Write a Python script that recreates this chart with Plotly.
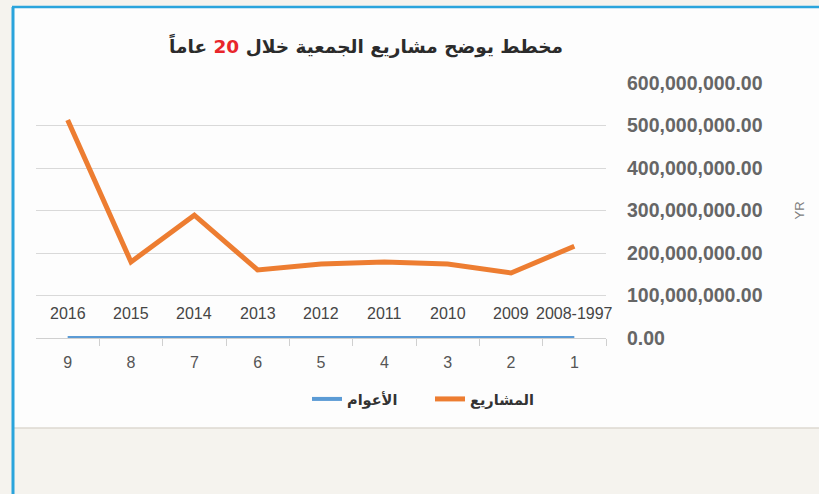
import plotly.graph_objects as go

# categories (right to left, Excel style reversed axis)
cats = ['1', '2', '3', '4', '5', '6', '7', '8', '9']
year_labels = ['2008-1997', '2009', '2010', '2011', '2012', '2013', '2014', '2015', '2016']
years_val = [2008, 2009, 2010, 2011, 2012, 2013, 2014, 2015, 2016]
projects = [216e6, 153e6, 174e6, 179e6, 174e6, 160e6, 289e6, 179e6, 513e6]
yticks = [0, 1e8, 2e8, 3e8, 4e8, 5e8, 6e8]

W, H = 819, 494
L, R, T, B = 36, 213, 83, 156
pw, ph = W - L - R, H - T - B

def px(x):
    return (x - L) / pw

def py(y):
    return (H - B - y) / ph

lab = 'Liberation Sans'
arab = 'DejaVu Sans'

fig = go.Figure()
fig.add_trace(go.Scatter(x=cats, y=years_val, name='الأعوام', mode='lines',
                         line=dict(color='#5b9bd5', width=4)))
fig.add_trace(go.Scatter(x=cats, y=projects, name='المشاريع', mode='lines',
                         line=dict(color='#ed7d31', width=5)))

# year labels sitting above the blue series (x given as category index)
for i, (lbl, v) in enumerate(zip(year_labels, years_val)):
    fig.add_annotation(x=i, y=v, text=lbl, showarrow=False, yshift=25,
                       font=dict(family=lab, size=16, color='#454545'))

shapes = [
    # page panel
    dict(type='rect', xref='paper', yref='paper', x0=px(13), x1=px(830), y0=py(428), y1=py(7),
         fillcolor='#fdfdfd', line=dict(width=0), layer='below'),
    dict(type='line', xref='paper', yref='paper', x0=px(13), x1=px(830), y0=py(428), y1=py(428),
         line=dict(color='#dcd8d0', width=1.5), layer='below'),
    dict(type='line', xref='paper', yref='paper', x0=px(13), x1=px(13), y0=py(500), y1=py(7),
         line=dict(color='#2aa4dc', width=3), layer='below'),
    dict(type='line', xref='paper', yref='paper', x0=px(12), x1=px(830), y0=py(7), y1=py(7),
         line=dict(color='#2aa4dc', width=2.5), layer='below'),
]

fig.update_layout(
    width=W, height=H,
    margin=dict(l=L, r=R, t=T, b=B),
    paper_bgcolor='#f5f3ee',
    plot_bgcolor='rgba(0,0,0,0)',
    shapes=shapes,
    title=dict(text="مخطط يوضح مشاريع الجمعية خلال <span style='color:#e8262b'>20</span> عاماً",
               x=366 / W, xanchor='center', y=1 - 47 / H, yanchor='middle',
               font=dict(family=arab, size=18.5, color='#2b2b2b', weight='bold')),
    showlegend=True,
    legend=dict(orientation='h', x=px(307), xanchor='left', y=py(399), yanchor='middle',
                font=dict(family=arab, size=14.5, color='#333333', weight='bold'),
                bgcolor='rgba(0,0,0,0)', traceorder='normal',
                entrywidth=78, entrywidthmode='pixels'),
    xaxis=dict(type='category', range=[len(cats) - 0.5, -0.5], showgrid=False,
               showline=True, linecolor='#d0d0d0', linewidth=1,
               ticks='outside', tickson='boundaries', ticklen=7, tickcolor='#d0d0d0',
               tickangle=0,
               tickfont=dict(family=lab, size=16, color='#555555'),
               ticklabelstandoff=10),
    yaxis=dict(side='right', range=[0, 6e8], tickvals=yticks, tickformat=',.2f',
               showgrid=True, gridcolor='#d9d9d9', gridwidth=1, zeroline=False,
               showline=False, ticks='', ticklabelstandoff=20,
               tickfont=dict(family=lab, size=19.5, color='#666666', weight='bold'),
               title=dict(text='YR', standoff=33,
                          font=dict(family=lab, size=13, color='#808080'))),
)

fig.write_html('out.html', config={'displayModeBar': False},
               post_script="document.body.style.margin='0px';")
